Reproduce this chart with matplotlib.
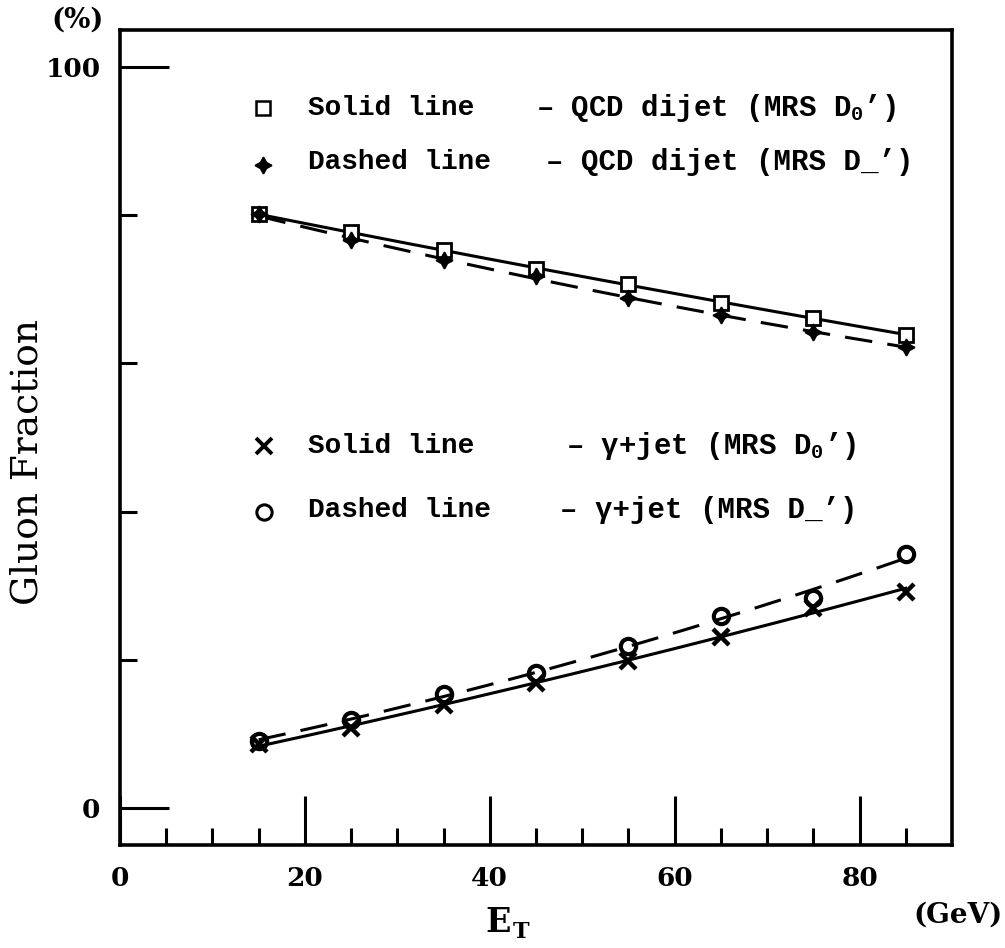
import matplotlib
matplotlib.use("Agg")
import matplotlib.pyplot as plt
import numpy as np

plt.rcParams['mathtext.fontset'] = 'custom'
plt.rcParams['mathtext.rm'] = 'Liberation Mono:bold'
plt.rcParams['mathtext.it'] = 'Liberation Mono:bold'
plt.rcParams['mathtext.bf'] = 'Liberation Mono:bold'

# transverse energy bins (GeV)
et = [15, 25, 35, 45, 55, 65, 75, 85]

# gluon fraction (%) per bin
qcd_d0 = [80.1, 77.7, 75.3, 72.8, 70.7, 68.2, 66.1, 63.9]
qcd_dm = [80.1, 76.6, 73.9, 71.8, 68.8, 66.6, 64.2, 62.2]
gam_d0 = [8.6, 10.8, 13.9, 16.8, 19.9, 23.1, 27.0, 29.2]
gam_dm = [9.1, 11.9, 15.4, 18.2, 21.9, 25.9, 28.4, 34.3]

xticks_major = [0, 20, 40, 60, 80]
yticks_major = [0, 100]
yticks_minor = [20, 40, 60, 80]

MONO = 'Liberation Mono'
SERIF = 'DejaVu Serif'

fig = plt.figure(figsize=(10.05, 9.48), dpi=100)
ax = fig.add_axes([120/1005, 103/948, 832/1005, 815/948])


def smooth(x, y):
    c = np.polyfit(x, y, 2)
    xx = np.linspace(min(x), max(x), 200)
    return xx, np.polyval(c, xx)


lw = 2.2
for y, ls in [(qcd_d0, '-'), (qcd_dm, '--'), (gam_d0, '-'), (gam_dm, '--')]:
    xx, yy = smooth(et, y)
    line, = ax.plot(xx, yy, color='black', lw=lw, ls=ls)
    if ls == '--':
        line.set_dashes((9, 5))

star = (4, 1, 0)
mk = dict(color='black', ls='none', clip_on=False)
ax.plot(et, qcd_d0, marker='s', ms=10.5, mfc='white', mew=2.0, **mk)
ax.plot(et, qcd_dm, marker=star, ms=12, mew=1.2, **mk)
ax.plot(et, gam_d0, marker='x', ms=11, mew=3.2, **mk)
ax.plot(et, gam_dm, marker='o', ms=11, mfc='none', mew=3, **mk)

ax.set_xlim(0, 90)
ax.set_ylim(-5, 105)

ax.set_xticks(xticks_major)
ax.set_xticks(np.arange(5, 90, 5), minor=True)
ax.set_yticks(yticks_major)
ax.set_yticks(yticks_minor, minor=True)
ax.tick_params(which='both', direction='in', width=2.2, top=False, right=False,
               labelsize=19)
ax.tick_params(axis='x', which='major', length=35, pad=15)
ax.tick_params(axis='x', which='minor', length=12)
ax.tick_params(axis='y', which='major', length=35, pad=14)
ax.tick_params(axis='y', which='minor', length=12)
for lab in ax.get_xticklabels() + ax.get_yticklabels():
    lab.set_family(SERIF)
    lab.set_weight('bold')
for sp in ax.spines.values():
    sp.set_linewidth(2.6)


def px(x, y):
    # figure pixel -> axes fraction
    return (x - 120) / 832, (845 - y) / 815


def key(x, y, marker, ms, mew, mfc):
    ax.plot(*px(x, y), marker=marker, ms=ms, mew=mew, mfc=mfc, color='black',
            transform=ax.transAxes, clip_on=False)


txt = dict(family=MONO, weight='bold', fontsize=20, va='center', ha='left',
           transform=ax.transAxes)
txt2 = dict(txt, fontsize=21)

key(263, 108, 's', 10.5, 1.8, 'white')
ax.text(*px(308, 108), 'Solid line', **txt)
ax.text(*px(536, 108), "– QCD dijet (MRS D$_0$’)", **txt2)

key(263, 165, star, 12, 1.2, 'black')
ax.text(*px(308, 162), 'Dashed line', **txt)
ax.text(*px(546, 162), "– QCD dijet (MRS D_’)", **txt2)

key(264, 446, 'x', 11, 2.8, 'black')
ax.text(*px(308, 446), 'Solid line', **txt)
ax.text(*px(566, 446), "– γ+jet (MRS D$_0$’)", **txt2)

key(264, 512, 'o', 11, 2.2, 'white')
ax.text(*px(308, 510), 'Dashed line', **txt)
ax.text(*px(560, 510), "– γ+jet (MRS D_’)", **txt2)

# axis titles
fig.text(28/1005, 1 - 462/948, 'Gluon Fraction', family=SERIF, fontsize=27,
         rotation=90, ha='center', va='center')
fig.text(498/1005, 1 - 922/948, 'E', family=SERIF, weight='bold', fontsize=24,
         ha='center', va='center')
fig.text(513/1005, 1 - 932/948, 'T', family=SERIF, weight='bold', fontsize=16,
         ha='left', va='center')
fig.text(958/1005, 1 - 915/948, '(GeV)', family=SERIF, weight='bold',
         fontsize=20, ha='center', va='center')
fig.text(78/1005, 1 - 20/948, '(%)', family=SERIF, weight='bold',
         fontsize=20, ha='center', va='center')

fig.savefig('out.png', dpi=100, facecolor='white')
